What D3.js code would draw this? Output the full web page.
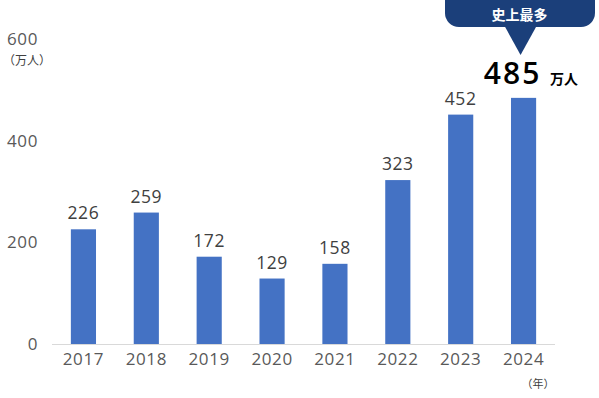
<!DOCTYPE html>
<html>
<head>
<meta charset="utf-8">
<script src="https://cdn.jsdelivr.net/npm/d3@7"></script>
<style>
  body { margin: 0; background: #fff; }
  svg { display: block; font-family: "Open Sans", "Noto Sans CJK JP", sans-serif; }
</style>
</head>
<body>
<div id="vis"></div>
<script>
var years = ["2017", "2018", "2019", "2020", "2021", "2022", "2023", "2024"];
var visitors = [226, 259, 172, 129, 158, 323, 452, 485];
var yTicks = [0, 200, 400, 600];

var width = 599, height = 398;

var x = d3.scaleBand()
    .domain(years)
    .range([52, 555])
    .paddingInner(0.6)
    .paddingOuter(0.3);

var y = d3.scaleLinear()
    .domain([0, 600])
    .range([344, 39.5]);

var svg = d3.select("div#vis").append("svg")
    .attr("width", width)
    .attr("height", height);

// y axis labels only
var yAxis = d3.axisLeft(y).tickValues(yTicks).tickSize(0).tickPadding(0);
var gY = svg.append("g")
    .attr("transform", "translate(38,0)")
    .call(yAxis);
gY.select(".domain").remove();
gY.selectAll("text")
    .attr("fill", "#595959")
    .style("font-size", "17px")
    .style("letter-spacing", "0.6px")
    .style("font-family", "Open Sans, sans-serif");

svg.append("text")
    .attr("x", 27)
    .attr("y", 65)
    .attr("text-anchor", "middle")
    .attr("fill", "#404040")
    .style("font-size", "12px")
    .style("font-family", "Noto Sans CJK JP")
    .text("（万人）");

// x axis
var xAxis = d3.axisBottom(x).tickSize(0).tickPadding(9);
var gX = svg.append("g")
    .attr("transform", "translate(0," + y(0) + ")")
    .call(xAxis);
gX.select(".domain")
    .attr("stroke", "#d9d9d9")
    .attr("d", "M52,0.5H555");
gX.selectAll("text")
    .attr("fill", "#595959")
    .style("font-size", "17px")
    .style("letter-spacing", "0.6px")
    .style("font-family", "Open Sans, sans-serif");

svg.append("text")
    .attr("x", 538)
    .attr("y", 388)
    .attr("text-anchor", "middle")
    .attr("fill", "#404040")
    .style("font-size", "11px")
    .style("font-family", "Noto Sans CJK JP")
    .text("（年）");

var data = years.map(function(d, i) { return {year: d, value: visitors[i]}; });

svg.append("g").selectAll("rect")
    .data(data)
    .enter().append("rect")
    .attr("x", function(d) { return x(d.year); })
    .attr("y", function(d) { return y(d.value); })
    .attr("width", x.bandwidth())
    .attr("height", function(d) { return y(0) - y(d.value); })
    .attr("fill", "#4472c4");

// value labels (except last)
svg.append("g").selectAll("text")
    .data(data.slice(0, -1))
    .enter().append("text")
    .attr("x", function(d) { return x(d.year) + x.bandwidth() / 2; })
    .attr("y", function(d) { return y(d.value) - 10; })
    .attr("text-anchor", "middle")
    .attr("fill", "#404040")
    .style("font-size", "17.5px")
    .style("letter-spacing", "0.6px")
    .text(function(d) { return d.value; });

// highlighted last value
var last = data[data.length - 1];
var lx = x(last.year) + x.bandwidth() / 2;
svg.append("text")
    .attr("x", lx - 11)
    .attr("y", y(last.value) - 14)
    .attr("text-anchor", "middle")
    .attr("fill", "#000")
    .style("font-size", "30px")
    .style("font-weight", "600")
    .style("letter-spacing", "2px")
    .text(last.value);
svg.append("text")
    .attr("x", 564)
    .attr("y", y(last.value) - 14)
    .attr("text-anchor", "middle")
    .attr("fill", "#000")
    .style("font-size", "14px")
    .style("font-weight", "bold")
    .style("font-family", "Noto Sans CJK JP")
    .text("万人");

// callout bubble
var bub = svg.append("g");
bub.append("rect")
    .attr("x", 445)
    .attr("y", -14)
    .attr("width", 150)
    .attr("height", 41)
    .attr("rx", 14)
    .attr("fill", "#1b3f7a");
bub.append("path")
    .attr("d", "M" + (lx - 19) + ",26L" + (lx + 13) + ",26L" + (lx - 3) + ",55Z")
    .attr("fill", "#1b3f7a");
bub.append("text")
    .attr("x", lx - 4)
    .attr("y", 20)
    .attr("text-anchor", "middle")
    .attr("fill", "#fff")
    .style("font-size", "14px")
    .style("font-weight", "bold")
    .style("font-family", "Noto Sans CJK JP")
    .text("史上最多");
</script>
</body>
</html>
